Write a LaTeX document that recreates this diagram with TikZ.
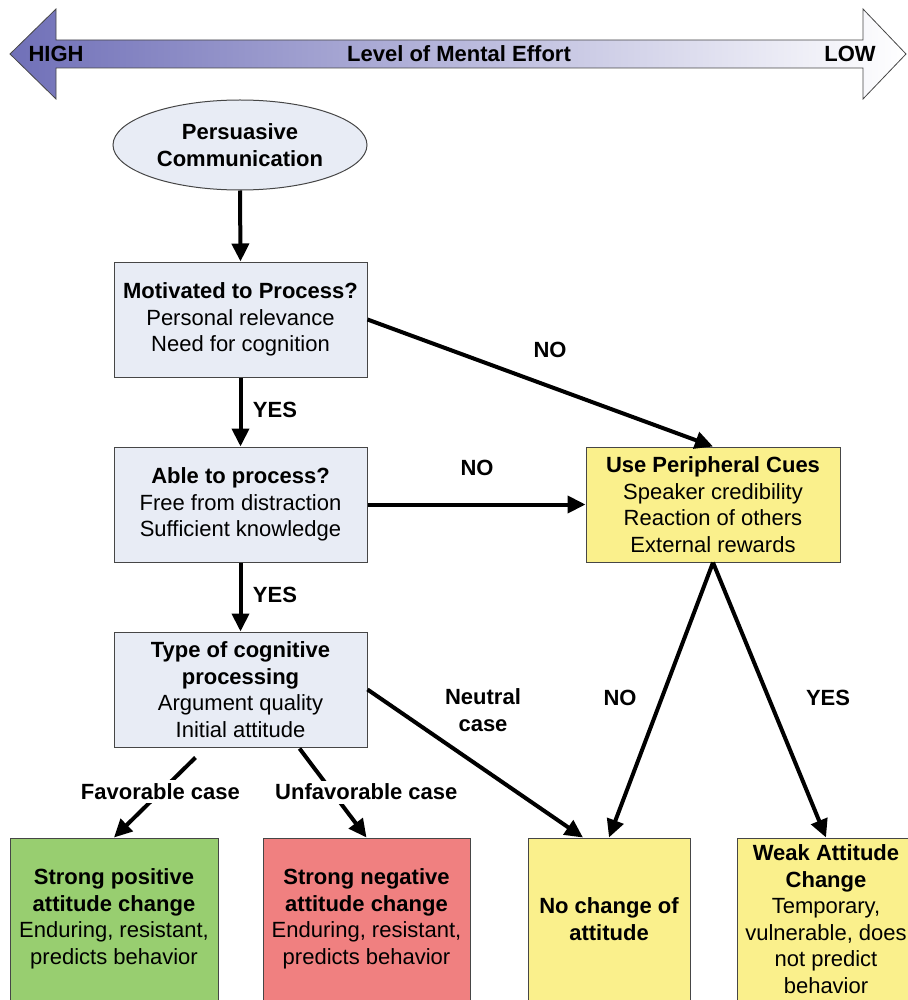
\documentclass[tikz,border=0pt]{standalone}
\usepackage{fontspec}
\setmainfont{Liberation Sans}
\usetikzlibrary{arrows.meta,shapes.geometric}
\definecolor{boxgray}{RGB}{232,236,245}
\definecolor{cueyellow}{RGB}{250,240,140}
\definecolor{posgreen}{RGB}{152,206,112}
\definecolor{negred}{RGB}{240,128,128}
\definecolor{effortblue}{RGB}{112,112,184}
\definecolor{edgegray}{RGB}{70,70,70}

\begin{document}
\begin{tikzpicture}[x=1pt, y=-1pt,
  every node/.style={font=\fontsize{22pt}{26.5pt}\selectfont},
  lab/.style={font=\fontsize{22pt}{26.5pt}\selectfont\bfseries, align=center},
  stepbox/.style={draw=edgegray, line width=1pt, align=center, minimum width=253pt, minimum height=115pt, inner sep=2pt},
  outbox/.style={draw=edgegray, line width=1pt, minimum height=180pt, inner sep=0pt},
  outtext/.style={align=center, yshift=9pt},
  flow/.style={line width=4pt, -{Triangle[length=18pt,width=17pt]}}]
  \useasboundingbox (0,0) rectangle (907,1000);
  % effort scale
  \shade[left color=effortblue, right color=white, draw=edgegray, line width=0.8pt]
    (10,54) -- (56,9) -- (56,40) -- (863,40) -- (863,9) -- (906,54) -- (863,99) -- (863,68) -- (56,68) -- (56,99) -- cycle;
  \node[lab] (high) at (56,54) {HIGH};
  \node[lab] (effort) at (459,54) {Level of Mental Effort};
  \node[lab] (low) at (850,54) {LOW};
  % route boxes
  \node[ellipse, draw=edgegray, line width=1pt, fill=boxgray, lab, minimum width=254pt, minimum height=90pt, inner sep=0pt] (msg) at (240,145) {Persuasive\\Communication};
  \node[stepbox, fill=boxgray] (motiv) at (240.5,319.5) {\textbf{Motivated to Process?}\\Personal relevance\\Need for cognition};
  \node[stepbox, fill=boxgray] (able) at (240.5,504.5) {\textbf{Able to process?}\\Free from distraction\\Sufficient knowledge};
  \node[stepbox, fill=boxgray] (kind) at (240.5,689.5) {\textbf{Type of cognitive}\\\textbf{processing}\\Argument quality\\Initial attitude};
  \node[stepbox, fill=cueyellow, minimum width=254pt] (cues) at (713,504.5) {\textbf{Use Peripheral Cues}\\Speaker credibility\\Reaction of others\\External rewards};
  % outcomes
  \node[outbox, fill=posgreen, minimum width=208pt, label={[outtext]center:{\textbf{Strong positive}\\\textbf{attitude change}\\Enduring, resistant,\\predicts behavior}}] (green) at (114,928) {};
  \node[outbox, fill=negred, minimum width=207pt, label={[outtext]center:{\textbf{Strong negative}\\\textbf{attitude change}\\Enduring, resistant,\\predicts behavior}}] (red) at (366.5,928) {};
  \node[outbox, fill=cueyellow, minimum width=162pt, label={[outtext]center:{\textbf{No change of}\\\textbf{attitude}}}] (nochange) at (609,928) {};
  \node[outbox, fill=cueyellow, minimum width=178pt, label={[outtext]center:{\textbf{Weak Attitude}\\\textbf{Change}\\Temporary,\\vulnerable, does\\not predict\\behavior}}] (weak) at (826,928) {};
  % connectors
  \draw[flow] (msg.south) -- (motiv.north);
  \draw[flow] (motiv.south) -- (able.north) node[lab] at (275,410) {YES};
  \draw[flow] (able.south) -- (kind.north) node[lab] at (275,595) {YES};
  \draw[flow] (motiv.east) -- (cues.north) node[lab] at (550,350) {NO};
  \draw[flow] (able.east) -- (cues.west) node[lab] at (477,468) {NO};
  \draw[flow] (cues.south) -- (nochange.north) node[lab] at (620,698) {NO};
  \draw[flow] (cues.south) -- (weak.north) node[lab] at (828,698) {YES};
  \draw[flow] (kind.east) -- ([xshift=-26pt]nochange.north) node[lab] at (483,710) {Neutral\\case};
  \draw[flow] ([xshift=-45pt,yshift=-10pt]kind.south) -- (green.north) node[lab, fill=white, pos=0.43] {Favorable case};
  \draw[flow] ([xshift=59pt,yshift=-1pt]kind.south) -- (red.north) node[lab, fill=white, pos=0.49, xshift=34pt] {Unfavorable case};
\end{tikzpicture}
\end{document}
